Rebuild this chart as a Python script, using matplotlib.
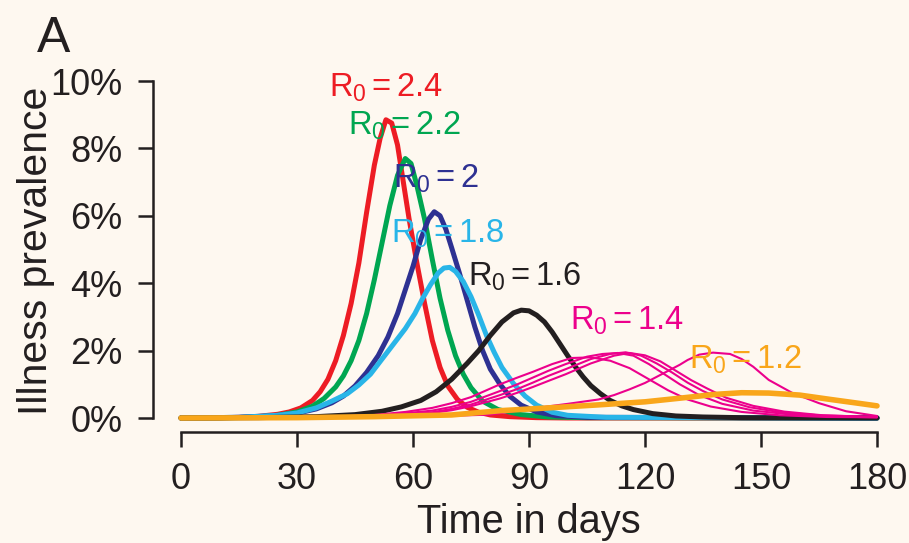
import matplotlib
matplotlib.use("Agg")
import matplotlib.pyplot as plt

# values (day, illness prevalence in %)
red_days = [0, 10, 15, 20, 25, 28, 31, 34, 36, 38, 40, 42, 44, 46, 48, 50, 51.5, 53, 54.5, 56,
            57.5, 59, 61, 63, 65, 67, 69, 71.5, 74, 77, 80, 85, 92, 100, 180]
red_vals = [0, 0.005, 0.02, 0.05, 0.11, 0.18, 0.3, 0.52, 0.78, 1.15, 1.7, 2.45, 3.4, 4.6, 6.1, 7.5, 8.3, 8.85,
            8.75, 8.1, 7.0, 5.9, 4.6, 3.4, 2.3, 1.5, 0.95, 0.55, 0.32, 0.17, 0.09, 0.04, 0.01, 0.0, 0.0]

green_days = [0, 10, 15, 20, 25, 30, 34, 37, 40, 42, 44, 46, 48, 50, 52, 54, 56, 58, 59.5, 61,
              63, 65, 67, 69, 71, 73, 75, 78, 82, 88, 95, 105, 180]
green_vals = [0, 0.005, 0.015, 0.035, 0.08, 0.18, 0.35, 0.58, 0.92, 1.25, 1.7, 2.3, 3.1, 4.1, 5.2, 6.3, 7.2, 7.7,
              7.55, 6.9, 5.9, 4.7, 3.55, 2.6, 1.85, 1.3, 0.9, 0.5, 0.25, 0.1, 0.03, 0.01, 0.0]

blue_days = [0, 15, 25, 30, 35, 39, 42, 45, 48, 51, 53.5, 56, 58, 60, 62, 64, 65.5, 67, 68.5, 70,
             72, 74, 76, 78, 80, 82.5, 85, 88, 92, 97, 105, 180]
blue_vals = [0, 0.02, 0.07, 0.14, 0.27, 0.45, 0.65, 0.95, 1.35, 1.85, 2.4, 3.1, 3.8, 4.5, 5.3, 5.9, 6.12, 6.0,
             5.6, 5.05, 4.3, 3.5, 2.7, 2.0, 1.45, 1.0, 0.65, 0.38, 0.18, 0.07, 0.02, 0.0]

cyan_days = [0, 15, 25, 30, 35, 39, 43, 46, 49, 52, 55, 58, 60.5, 62.5, 64.5, 66.5, 68, 69.5, 71, 73,
             75, 77, 79, 81, 83, 86, 89, 92, 96, 100, 110, 180]
cyan_vals = [0, 0.02, 0.08, 0.15, 0.3, 0.5, 0.72, 0.98, 1.3, 1.75, 2.2, 2.65, 3.1, 3.55, 3.95, 4.3, 4.45, 4.47,
             4.35, 4.05, 3.6, 3.05, 2.45, 1.95, 1.5, 1.02, 0.65, 0.38, 0.17, 0.08, 0.02, 0.0]

black_days = [0, 20, 35, 45, 52, 57, 62, 66, 70, 74, 77, 80, 83, 86, 88, 90, 92, 94, 96, 98,
              100, 102, 104, 106, 108.5, 111, 114, 117, 122, 128, 135, 145, 180]
black_vals = [0, 0.01, 0.04, 0.1, 0.2, 0.33, 0.52, 0.78, 1.15, 1.62, 2.0, 2.45, 2.85, 3.12, 3.2, 3.18, 3.05, 2.85,
              2.55, 2.2, 1.85, 1.52, 1.22, 0.96, 0.72, 0.52, 0.36, 0.25, 0.13, 0.06, 0.03, 0.01, 0.0]

# R0 = 1.4 runs (thin pink lines)
pink_a_days = [0, 40, 50, 58, 65, 70, 75, 82.5, 87, 91, 96, 101, 106, 111, 116, 121, 126, 131, 137,
               145, 155, 167, 180]
pink_a_vals = [0, 0.04, 0.09, 0.18, 0.3, 0.44, 0.62, 1.0, 1.2, 1.37, 1.6, 1.78, 1.8, 1.7, 1.48, 1.15, 0.82,
               0.55, 0.34, 0.18, 0.08, 0.03, 0.02]
pink_b_days = [0, 40, 50, 58, 65, 70, 75, 82.5, 87, 91, 95, 99.5, 105, 109, 113, 117, 121, 125, 129,
               134, 140, 148, 158, 170, 180]
pink_b_vals = [0, 0.03, 0.07, 0.14, 0.22, 0.33, 0.48, 0.8, 1.0, 1.2, 1.4, 1.6, 1.82, 1.9, 1.93, 1.85, 1.6,
               1.3, 1.0, 0.68, 0.42, 0.22, 0.1, 0.04, 0.02]
pink_c_days = [0, 40, 50, 58, 65, 70, 75, 82.5, 87, 91, 95, 99.5, 106, 111, 115, 119, 123, 127, 131,
               135, 140, 147, 155, 165, 180]
pink_c_vals = [0, 0.02, 0.05, 0.11, 0.17, 0.27, 0.4, 0.68, 0.86, 1.05, 1.25, 1.45, 1.75, 1.9, 1.95, 1.85,
               1.62, 1.35, 1.05, 0.8, 0.55, 0.32, 0.17, 0.08, 0.03]
pink_d_days = [0, 40, 50, 58, 65, 70, 75, 82.5, 87, 91, 95, 99.5, 106, 112, 116, 120, 124, 128, 132,
               136, 141, 148, 156, 166, 180]
pink_d_vals = [0, 0.02, 0.04, 0.09, 0.15, 0.23, 0.35, 0.58, 0.75, 0.92, 1.1, 1.3, 1.62, 1.85, 1.93, 1.86,
               1.68, 1.4, 1.12, 0.88, 0.6, 0.36, 0.19, 0.08, 0.03]
pink_e_days = [0, 50, 65, 80, 92, 100, 108, 112, 116, 120, 123, 126, 129, 131, 134, 137.6, 142, 145,
               148, 152, 158, 165, 172, 180]
pink_e_vals = [0, 0.02, 0.05, 0.1, 0.3, 0.42, 0.55, 0.68, 0.85, 1.04, 1.22, 1.4, 1.58, 1.72, 1.88, 1.94, 1.9,
               1.75, 1.52, 1.13, 0.75, 0.44, 0.2, 0.06]

orange_days = [0, 30, 50, 70, 83, 95, 108, 120, 130, 138, 145, 152, 160, 168, 175, 180]
orange_vals = [0, 0.01, 0.04, 0.09, 0.22, 0.3, 0.39, 0.48, 0.6, 0.7, 0.75, 0.74, 0.68, 0.55, 0.44, 0.36]

x_ticks = [0, 30, 60, 90, 120, 150, 180]
y_ticks = [0, 2, 4, 6, 8, 10]
y_ticklabels = ["0%", "2%", "4%", "6%", "8%", "10%"]

label_texts = ["2.4", "2.2", "2", "1.8", "1.6", "1.4", "1.2"]
label_pos = [(38.3, 9.53), (43.2, 8.40), (54.8, 6.85), (54.3, 5.19), (74.2, 3.92), (100.6, 2.61), (131.4, 1.48)]

RED, GREEN, BLUE, CYAN = "#ed1c24", "#00a651", "#2e3192", "#29b5e8"
BLACK, PINK, ORANGE = "#231f20", "#ec008c", "#f9a61a"
BG = "#fef8f0"
label_colors = [RED, GREEN, BLUE, CYAN, BLACK, PINK, ORANGE]

plt.rcParams["font.family"] = ["Liberation Sans", "DejaVu Sans"]
plt.rcParams["mathtext.fontset"] = "custom"
plt.rcParams["mathtext.rm"] = "Liberation Sans"
plt.rcParams["mathtext.it"] = "Liberation Sans"

fig = plt.figure(figsize=(9.09, 5.43), dpi=100, facecolor=BG)
ax = fig.add_axes([181 / 909, 125 / 543, 696 / 909, 337 / 543])
ax.set_facecolor(BG)

thick = dict(lw=3.6, solid_capstyle="round", solid_joinstyle="round", clip_on=False)
thin = dict(lw=1.5, solid_capstyle="round", solid_joinstyle="round", clip_on=False)
ax.plot(red_days, red_vals, color=RED, **thick)
ax.plot(green_days, green_vals, color=GREEN, **thick)
ax.plot(blue_days, blue_vals, color=BLUE, **thick)
ax.plot(cyan_days, cyan_vals, color=CYAN, **thick)
ax.plot(black_days, black_vals, color=BLACK, **thick)
for d, v in [(pink_a_days, pink_a_vals), (pink_b_days, pink_b_vals), (pink_c_days, pink_c_vals),
             (pink_d_days, pink_d_vals), (pink_e_days, pink_e_vals)]:
    ax.plot(d, v, color=PINK, **thin)
ax.plot(orange_days, orange_vals, color=ORANGE, lw=4.0, solid_capstyle="round",
        solid_joinstyle="round", clip_on=False)

for txt, (x, y), c in zip(label_texts, label_pos, label_colors):
    ax.text(x, y, r"$\mathregular{R_0 = " + txt + "}$", color=c, fontsize=23.5, va="baseline", ha="left")

ax.set_xlim(0, 180)
ax.set_ylim(0, 10)
ax.set_xticks(x_ticks)
ax.set_yticks(y_ticks)
ax.set_yticklabels(y_ticklabels)

for s in ["top", "right"]:
    ax.spines[s].set_visible(False)
ax.spines["left"].set_position(("outward", 20.2))
ax.spines["bottom"].set_position(("outward", 10.1))
ax.spines["left"].set_bounds(0, 10)
ax.spines["bottom"].set_bounds(0, 180)
for s in ["left", "bottom"]:
    ax.spines[s].set_linewidth(1.8)
    ax.spines[s].set_color(BLACK)
ax.tick_params(axis="both", length=10.8, width=1.8, color=BLACK, labelcolor=BLACK, labelsize=26)
ax.tick_params(axis="y", pad=11)
ax.tick_params(axis="x", pad=11)

fig.text(36 / 909, 1 - 251 / 543, "Illness prevalence", rotation=90, ha="center", va="center",
         fontsize=29.5, color=BLACK)
fig.text(529 / 909, 1 - 533 / 543, "Time in days", ha="center", va="baseline", fontsize=28.6, color=BLACK)
fig.text(37 / 909, 1 - 52 / 543, "A", ha="left", va="baseline", fontsize=36, color=BLACK)

fig.savefig("out.png", dpi=100, facecolor=BG)
